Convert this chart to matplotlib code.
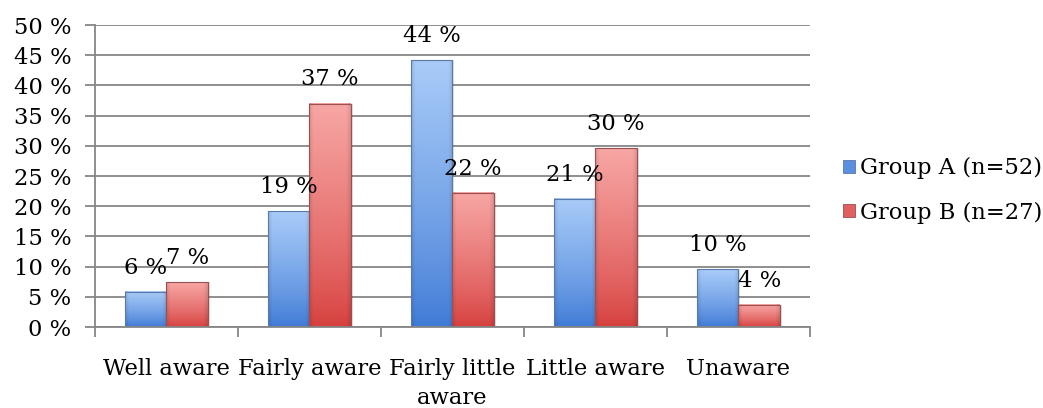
import numpy as np
import matplotlib
matplotlib.use("Agg")
import matplotlib.pyplot as plt
from matplotlib.patches import Rectangle
from matplotlib.colors import to_rgb

# Awareness level by group, in percent of respondents
categories = ["Well aware", "Fairly aware", "Fairly little\naware", "Little aware", "Unaware"]
group_a = [5.8, 19.2, 44.2, 21.2, 9.6]
group_b = [7.4, 37.0, 22.2, 29.6, 3.7]
series_names = ["Group A (n=52)", "Group B (n=27)"]
y_ticks = [0, 5, 10, 15, 20, 25, 30, 35, 40, 45, 50]

plt.rcParams["font.family"] = ["DejaVu Serif"]
FS = 16.3

fig = plt.figure(figsize=(10.43, 4.08), dpi=100)
ax = fig.add_axes([0.091, 0.1985, 0.6856, 0.7402])

grid_c = "#868686"
x = np.arange(len(categories))
w = 0.29

styles = [
    dict(top="#a8cbf8", bottom="#3f7ad6", edge="#5a78a8", mid="#5b8fe0"),
    dict(top="#f7a6a4", bottom="#d6403e", edge="#985050", mid="#e06060"),
]


def shade(bar, st):
    x0, y0 = bar.get_x(), bar.get_y()
    bw, bh = bar.get_width(), bar.get_height()
    ny, nx = 64, 32
    v = np.linspace(0, 1, ny)[:, None]
    u = np.linspace(0, 1, nx)[None, :]
    top = np.array(to_rgb(st["top"]))
    bot = np.array(to_rgb(st["bottom"]))
    t = (v ** 0.8)[..., None]
    base = bot[None, None, :] * (1 - t) + top[None, None, :] * t
    edge = np.clip(1 - np.minimum(u, 1 - u) / 0.1, 0, 1)
    img = base * (1 - 0.10 * edge[..., None])
    ax.imshow(img, extent=[x0, x0 + bw, y0, y0 + bh], origin="lower",
              aspect="auto", zorder=2.1, interpolation="bilinear")
    ax.add_patch(Rectangle((x0, y0), bw, bh, fill=False, edgecolor=st["edge"],
                           linewidth=0.8, zorder=2.3))
    # soft drop shadow to the right
    ax.add_patch(Rectangle((x0 + bw, y0), 0.012, bh, facecolor="#000000",
                           alpha=0.12, linewidth=0, zorder=2.0))


for i, (vals, st) in enumerate(zip([group_a, group_b], styles)):
    bars = ax.bar(x + (i - 0.5) * w, vals, width=w, color=st["mid"],
                  label=series_names[i], zorder=2)
    for bar, val in zip(bars, vals):
        shade(bar, st)
        ax.annotate(f"{val:.0f} %", (bar.get_x() + bar.get_width() / 2, bar.get_height()),
                    xytext=(0, 13), textcoords="offset points", ha="center",
                    va="baseline", fontsize=FS, zorder=4)

ax.set_xlim(-0.5, len(categories) - 0.5)
ax.set_ylim(0, 50)
ax.set_yticks(y_ticks)
ax.set_yticklabels([f"{t} %" for t in y_ticks])
ax.yaxis.grid(True, color=grid_c, linewidth=1.3, zorder=0)
ax.set_axisbelow(True)

ax.set_xticks(np.arange(len(categories) + 1) - 0.5)
ax.set_xticklabels([])
ax.set_xticks(x, minor=True)
ax.set_xticklabels(categories, minor=True, fontsize=FS, linespacing=1.45)
ax.tick_params(axis="x", which="major", length=7, width=1.3, color=grid_c, direction="out")
ax.tick_params(axis="x", which="minor", length=0, pad=22)
ax.tick_params(axis="y", length=7, width=1.3, color=grid_c, labelsize=FS, pad=10)

for s in ["top", "right"]:
    ax.spines[s].set_visible(False)
for s in ["left", "bottom"]:
    ax.spines[s].set_color(grid_c)
    ax.spines[s].set_linewidth(1.3)

handles = [Rectangle((0, 0), 1, 1, facecolor=st["mid"], edgecolor=st["edge"], linewidth=0.6)
           for st in styles]
fig.legend(handles, series_names, loc="center left", bbox_to_anchor=(0.8, 0.533),
           frameon=False, fontsize=FS, handlelength=0.5, handleheight=0.5,
           handletextpad=0.25, labelspacing=1.0, borderaxespad=0)

fig.savefig("out.png", dpi=100)
